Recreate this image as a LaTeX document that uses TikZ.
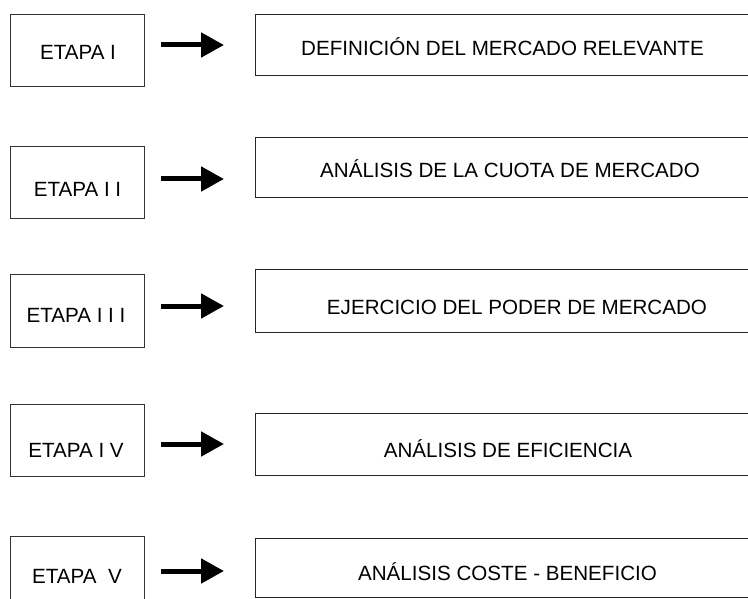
\documentclass[tikz,border=0pt]{standalone}
\usepackage{fontspec}
\setmainfont{Liberation Sans}
\usetikzlibrary{arrows.meta}
\tikzset{
  lbox/.style={draw=black!80, line width=1pt, rectangle, inner sep=0pt, outer sep=0pt, minimum width=134pt, minimum height=72pt},
  rbox/.style={draw=black!85, line width=1pt, rectangle, inner sep=0pt, outer sep=0pt, minimum width=505pt},
  txt/.style={inner sep=0pt, anchor=base, font=\fontsize{20.6}{24}\selectfont},
  bigarrow/.style={line width=5pt, -{Triangle[length=23pt,width=24pt]}}
}
\begin{document}
\begin{tikzpicture}[x=1pt,y=-1pt]
\useasboundingbox (0,0) rectangle (748,599);
\clip (0,0) rectangle (748,599);
\fill[white] (0,0) rectangle (748,599);
% left boxes
\node[lbox] (L1) at (77,51) {};
\node[lbox] (L2) at (77,183) {};
\node[lbox] (L3) at (77,311) {};
\node[lbox] (L4) at (77,440) {};
\node[lbox] (L5) at (77,572) {};
\node[txt] (LT1) at (78,60) {ETAPA I};
\node[txt] (LT2) at (77.5,197) {ETAPA I I};
\node[txt] (LT3) at (76,322) {ETAPA I I I};
\node[txt] (LT4) at (76,457) {ETAPA I V};
\node[txt] (LT5) at (77,583) {ETAPA\ \ V};
% right boxes
\node[rbox, minimum height=61pt] (R1) at (507.5,45.5) {};
\node[rbox, minimum height=60pt] (R2) at (507.5,168) {};
\node[rbox, minimum height=62pt] (R3) at (507.5,301) {};
\node[rbox, minimum height=62pt] (R4) at (507.5,444) {};
\node[rbox, minimum height=59pt] (R5) at (507.5,567.5) {};
\node[txt] (RT1) at (502.5,56) {DEFINICIÓN DEL MERCADO RELEVANTE};
\node[txt] (RT2) at (510,178) {ANÁLISIS DE LA CUOTA DE MERCADO};
\node[txt] (RT3) at (517,314) {EJERCICIO DEL PODER DE MERCADO};
\node[txt] (RT4) at (508,457) {ANÁLISIS DE EFICIENCIA};
\node[txt] (RT5) at (507.5,580) {ANÁLISIS COSTE - BENEFICIO};
% arrow endpoints
\coordinate (A1s) at (161,45);
\coordinate (A1e) at (224,45);
\coordinate (A2s) at (161,179);
\coordinate (A2e) at (224,179);
\coordinate (A3s) at (161,306);
\coordinate (A3e) at (224,306);
\coordinate (A4s) at (161,444);
\coordinate (A4e) at (224,444);
\coordinate (A5s) at (161,571);
\coordinate (A5e) at (224,571);
\draw[bigarrow] (A1s) -- (A1e);
\draw[bigarrow] (A2s) -- (A2e);
\draw[bigarrow] (A3s) -- (A3e);
\draw[bigarrow] (A4s) -- (A4e);
\draw[bigarrow] (A5s) -- (A5e);
\end{tikzpicture}
\end{document}
